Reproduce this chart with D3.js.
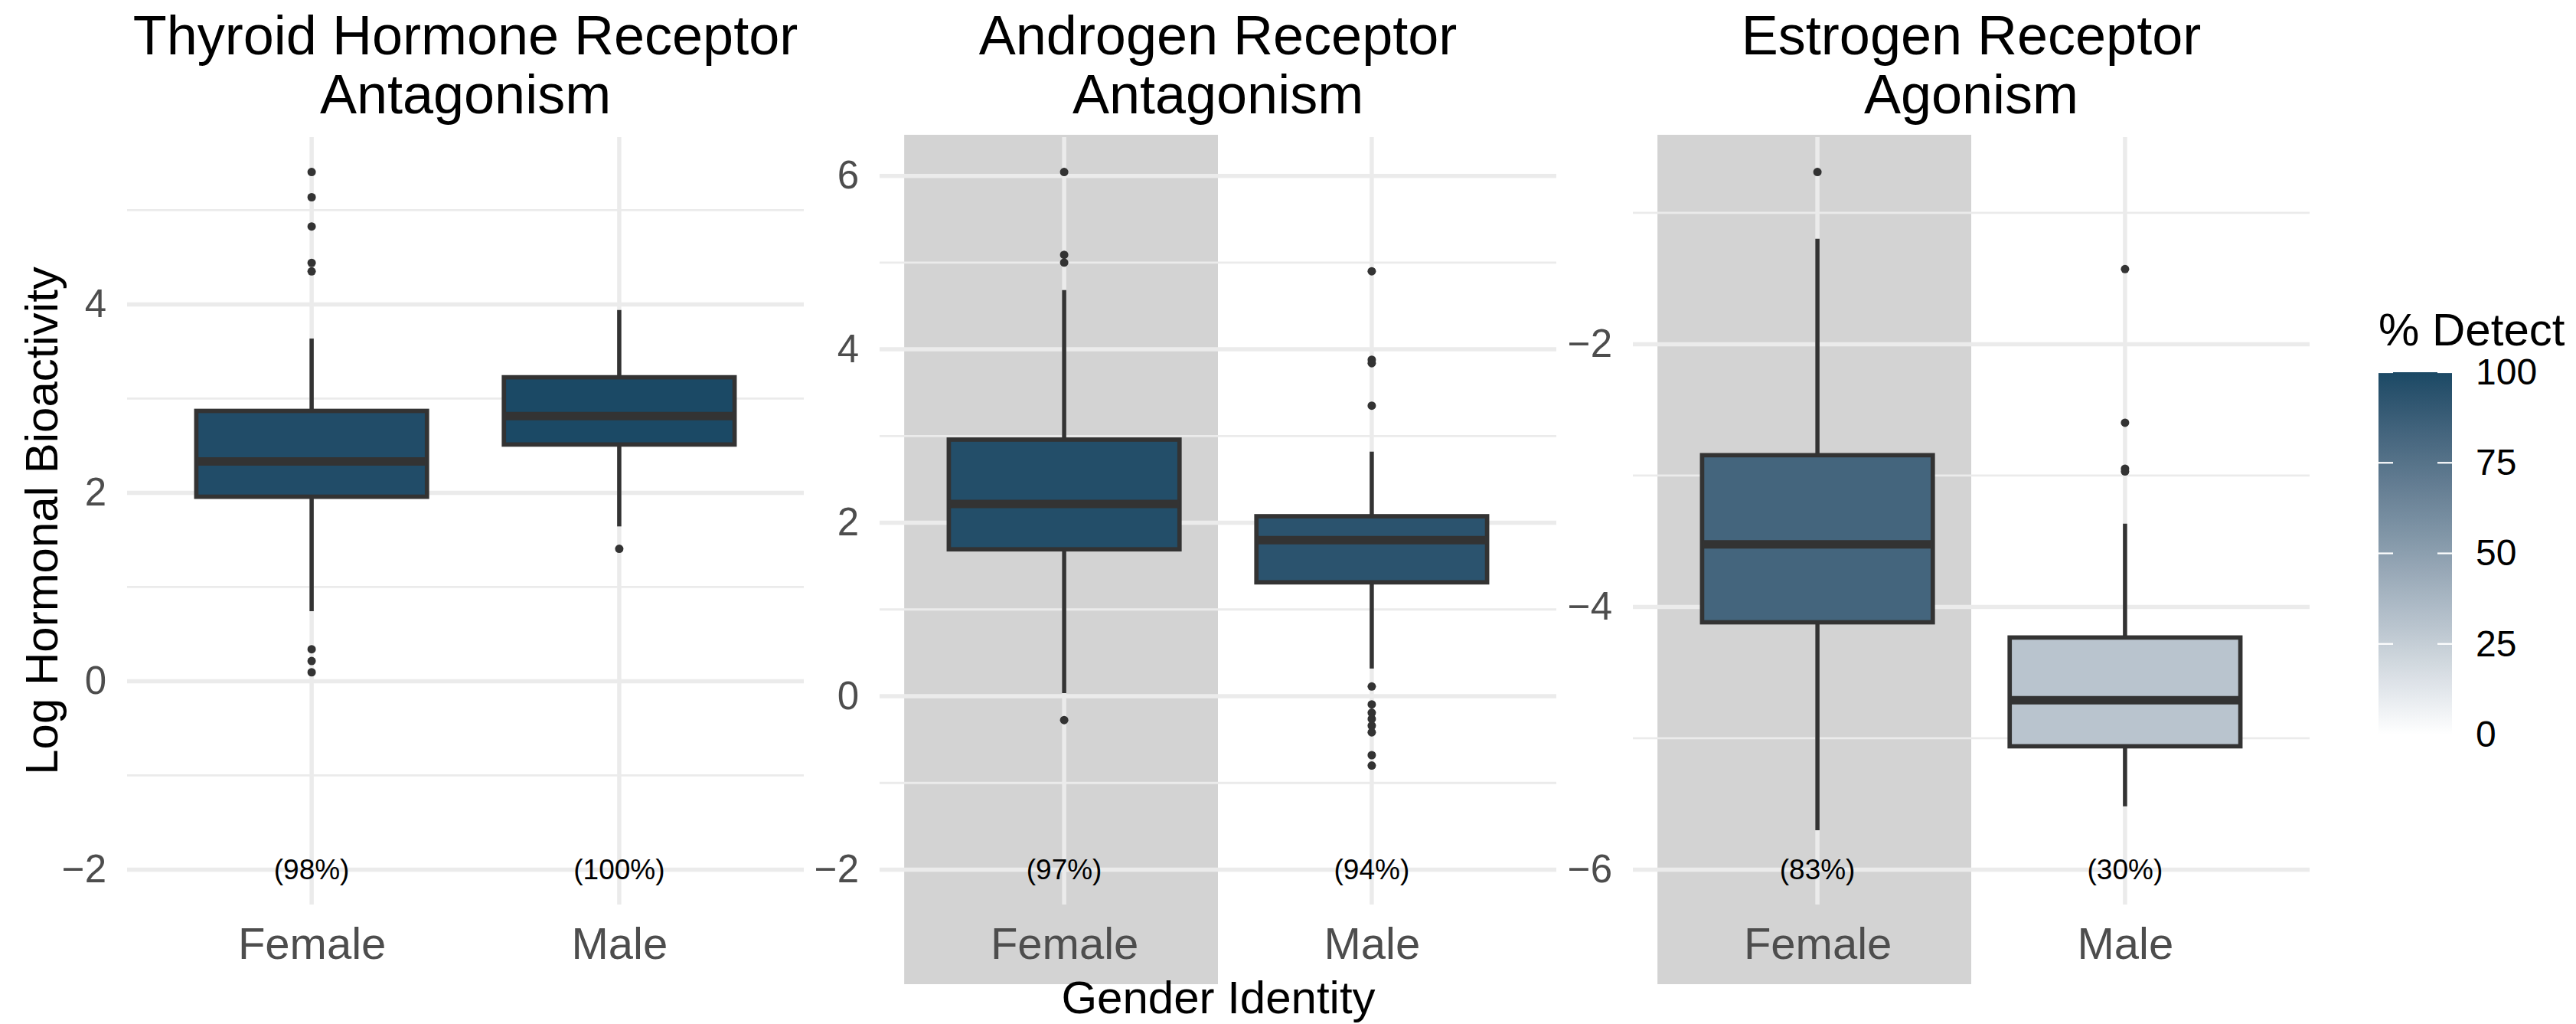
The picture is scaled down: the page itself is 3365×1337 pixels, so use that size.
<!DOCTYPE html>
<html>
<head>
<meta charset="utf-8">
<script src="https://cdn.jsdelivr.net/npm/d3@7"></script>
<style>
  html, body { margin: 0; padding: 0; background: #ffffff; }
  svg { display: block; }
  text { font-family: "Liberation Sans", Arial, Helvetica, sans-serif; }
</style>
</head>
<body>
<svg id="chart" width="3365" height="1337"></svg>
<script>
// ---------------- DATA ----------------
const panelTitles = [
  ["Thyroid Hormone Receptor", "Antagonism"],
  ["Androgen Receptor", "Antagonism"],
  ["Estrogen Receptor", "Agonism"]
];
const genders = ["Female", "Male"];
// box statistics per panel: [Female, Male]
const whiskerLow  = [[0.744, 1.643], [0.035, 0.319], [-5.70, -5.518]];
const q1          = [[1.958, 2.512], [1.694, 1.313], [-4.117, -5.061]];
const medians     = [[2.333, 2.815], [2.217, 1.800], [-3.524, -4.711]];
const q3          = [[2.869, 3.226], [2.959, 2.075], [-2.845, -4.233]];
const whiskerHigh = [[3.637, 3.940], [4.683, 2.820], [-1.197, -3.366]];
const outliers = [
  [[5.405, 5.137, 4.827, 4.44, 4.35, 0.339, 0.214, 0.095], [1.405]],
  [[6.045, 5.09, 5.0, -0.275], [4.90, 3.88, 3.84, 3.35, 0.112, -0.094, -0.19, -0.262, -0.34, -0.417, -0.68, -0.80]],
  [[-0.689], [-1.428, -2.598, -2.948, -2.969]]
];
const pctDetect = [[98, 100], [97, 94], [83, 30]];
const pctLabelY = [-2, -2, -6];
const highlightFemale = [false, true, true];
const yMajorTicks = [[-2, 0, 2, 4], [-2, 0, 2, 4, 6], [-6, -4, -2]];
const legendTicks = [0, 25, 50, 75, 100];
const xAxisTitle = "Gender Identity";
const yAxisTitle = "Log Hormonal Bioactivity";
const legendTitle = "% Detect";

// ---------------- LAYOUT ----------------
const svg = d3.select("#chart");
const panelX0 = [166, 1149, 2133];
const panelW = 884;
const panelTop = 179, panelBottom = 1181;
const bandTop = 176, bandBottom = 1285;
const gridCol = "#ebebeb";
const boxLine = "#333333";
const fontStack = '"Liberation Sans", Arial, Helvetica, sans-serif';

const fillScale = d3.scaleLinear().domain([0, 100])
  .range(["#ffffff", "#1B4965"]).interpolate(d3.interpolateLab);

panelTitles.forEach((title, p) => {
  const x0 = panelX0[p];
  const x = d3.scalePoint().domain(genders).range([x0, x0 + panelW]).padding(0.6);
  const step = x.step();

  const allVals = [pctLabelY[p]];
  for (let g = 0; g < 2; g++) {
    allVals.push(whiskerLow[p][g], whiskerHigh[p][g], ...outliers[p][g]);
  }
  const [mn, mx] = d3.extent(allVals);
  const pad = (mx - mn) * 0.05;
  const y = d3.scaleLinear().domain([mn - pad, mx + pad]).range([panelBottom, panelTop]);

  const g = svg.append("g");

  // highlight band
  if (highlightFemale[p]) {
    g.append("rect")
      .attr("x", x("Female") - 0.52 * step)
      .attr("width", 1.02 * step)
      .attr("y", bandTop)
      .attr("height", bandBottom - bandTop)
      .attr("fill", "#d3d3d3");
  }

  // minor gridlines
  const majors = yMajorTicks[p];
  const minors = [];
  const stepT = majors[1] - majors[0];
  const [d0, d1] = y.domain();
  for (let v = majors[0] - stepT / 2; v <= d1; v += stepT) {
    if (v >= d0) minors.push(v);
  }
  g.selectAll(".minor").data(minors).enter().append("line")
    .attr("x1", x0).attr("x2", x0 + panelW)
    .attr("y1", d => y(d)).attr("y2", d => y(d))
    .attr("stroke", gridCol).attr("stroke-width", 2.8);
  g.selectAll(".major").data(majors).enter().append("line")
    .attr("x1", x0).attr("x2", x0 + panelW)
    .attr("y1", d => y(d)).attr("y2", d => y(d))
    .attr("stroke", gridCol).attr("stroke-width", 5.5);
  g.selectAll(".vmajor").data(genders).enter().append("line")
    .attr("x1", d => x(d)).attr("x2", d => x(d))
    .attr("y1", panelTop).attr("y2", panelBottom)
    .attr("stroke", gridCol).attr("stroke-width", 5.5);

  // boxes
  const bw = 0.75 * step;
  genders.forEach((gen, gi) => {
    const cx = x(gen);
    // whiskers
    g.append("line").attr("x1", cx).attr("x2", cx)
      .attr("y1", y(q3[p][gi])).attr("y2", y(whiskerHigh[p][gi]))
      .attr("stroke", boxLine).attr("stroke-width", 5.5);
    g.append("line").attr("x1", cx).attr("x2", cx)
      .attr("y1", y(q1[p][gi])).attr("y2", y(whiskerLow[p][gi]))
      .attr("stroke", boxLine).attr("stroke-width", 5.5);
    // box
    g.append("rect")
      .attr("x", cx - bw / 2).attr("width", bw)
      .attr("y", y(q3[p][gi])).attr("height", y(q1[p][gi]) - y(q3[p][gi]))
      .attr("fill", fillScale(pctDetect[p][gi]))
      .attr("stroke", boxLine).attr("stroke-width", 5.7);
    // median
    g.append("line")
      .attr("x1", cx - bw / 2).attr("x2", cx + bw / 2)
      .attr("y1", y(medians[p][gi])).attr("y2", y(medians[p][gi]))
      .attr("stroke", boxLine).attr("stroke-width", 11);
    // outliers
    g.selectAll(null).data(outliers[p][gi]).enter().append("circle")
      .attr("cx", cx).attr("cy", d => y(d)).attr("r", 5.5)
      .attr("fill", boxLine);
    // percentage label
    g.append("text")
      .attr("x", cx).attr("y", y(pctLabelY[p]))
      .attr("dy", "0.35em")
      .attr("text-anchor", "middle")
      .attr("font-size", 37).attr("fill", "#000000")
      .text("(" + pctDetect[p][gi] + "%)");
  });

  // y axis labels
  const yAxis = d3.axisLeft(y).tickValues(majors).tickSize(0).tickPadding(27)
    .tickFormat(d3.format("d"));
  const ya = g.append("g").attr("transform", `translate(${x0},0)`).call(yAxis);
  ya.select(".domain").remove();
  ya.selectAll("text").attr("font-size", 51).attr("fill", "#4d4d4d")
    .attr("font-family", fontStack);

  // x axis labels
  const xAxis = d3.axisBottom(x).tickSize(0).tickPadding(30);
  const xa = g.append("g").attr("transform", `translate(0,${panelBottom})`).call(xAxis);
  xa.select(".domain").remove();
  xa.selectAll("text").attr("font-size", 58).attr("fill", "#4d4d4d")
    .attr("font-family", fontStack);

  // title
  const tcx = x0 + panelW / 2;
  title.forEach((line, li) => {
    svg.append("text")
      .attr("x", tcx).attr("y", 71 + li * 77)
      .attr("text-anchor", "middle")
      .attr("font-size", 72).attr("fill", "#000000")
      .text(line);
  });
});

// axis titles
svg.append("text")
  .attr("x", (panelX0[0] + panelX0[2] + panelW) / 2).attr("y", 1323)
  .attr("text-anchor", "middle").attr("font-size", 60).attr("fill", "#000000")
  .text(xAxisTitle);
svg.append("text")
  .attr("transform", `translate(75,${(panelTop + panelBottom) / 2}) rotate(-90)`)
  .attr("text-anchor", "middle").attr("font-size", 60).attr("fill", "#000000")
  .text(yAxisTitle);

// legend
const legX = 3107, legW = 96, legTop = 486, legBottom = 959;
const ly = d3.scaleLinear().domain([0, 100]).range([legBottom, legTop]);
const defs = svg.append("defs");
const grad = defs.append("linearGradient").attr("id", "legGrad")
  .attr("x1", 0).attr("y1", 1).attr("x2", 0).attr("y2", 0);
d3.range(0, 101, 5).forEach(v => {
  grad.append("stop").attr("offset", v / 100).attr("stop-color", fillScale(v));
});
svg.append("text").attr("x", 3107).attr("y", 451)
  .attr("font-size", 60).attr("fill", "#000000").text(legendTitle);
svg.append("rect").attr("x", legX).attr("y", legTop)
  .attr("width", legW).attr("height", legBottom - legTop)
  .attr("fill", "url(#legGrad)");
const tickLen = 19;
legendTicks.forEach(v => {
  svg.append("line").attr("x1", legX).attr("x2", legX + tickLen)
    .attr("y1", ly(v)).attr("y2", ly(v)).attr("stroke", "#ffffff").attr("stroke-width", 2.2);
  svg.append("line").attr("x1", legX + legW - tickLen).attr("x2", legX + legW)
    .attr("y1", ly(v)).attr("y2", ly(v)).attr("stroke", "#ffffff").attr("stroke-width", 2.2);
});
const legAxis = d3.axisRight(ly).tickValues(legendTicks).tickSize(0).tickPadding(127);
const la = svg.append("g").attr("transform", `translate(${legX},0)`).call(legAxis);
la.select(".domain").remove();
la.selectAll("text").attr("font-size", 48).attr("fill", "#000000")
  .attr("font-family", fontStack);
</script>
</body>
</html>
